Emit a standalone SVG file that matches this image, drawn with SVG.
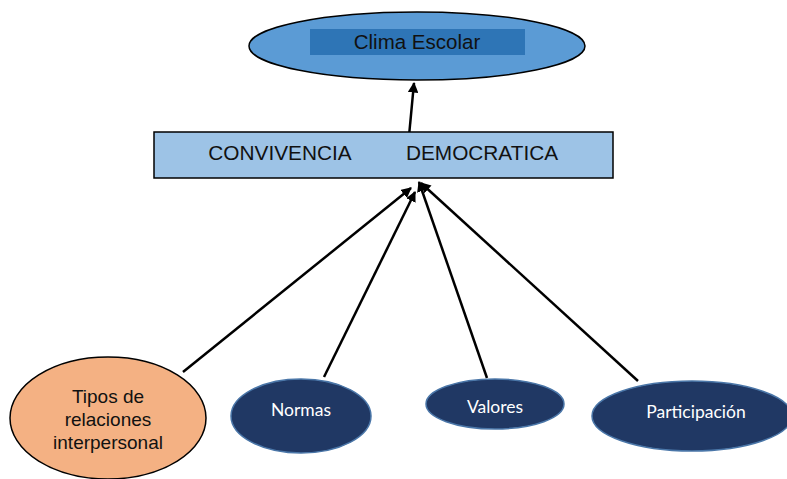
<svg xmlns="http://www.w3.org/2000/svg" width="787" height="479" viewBox="0 0 787 479">
<defs>
<style>
.lbl{font-family:"Liberation Sans",Arial,sans-serif;fill:#111;text-anchor:middle}
.wl{font-family:Lato,"Noto Sans",sans-serif;fill:#fff;text-anchor:middle;font-size:17.5px}
.dark{fill:#203864;stroke:#4a76a8;stroke-width:1.5}
.con{stroke:#000;stroke-width:2.5;fill:none;marker-end:url(#ah)}
</style>
<marker id="ah" viewBox="0 0 10 10" refX="9" refY="5" markerWidth="4.2" markerHeight="4.2" orient="auto" markerUnits="strokeWidth">
<path d="M0,0 L10,5 L0,10 z" fill="#000"/>
</marker>
</defs>
<rect width="787" height="479" fill="#fff"/>
<g id="connectors">
<line class="con" x1="409" y1="136" x2="414" y2="83"/>
<line class="con" x1="183" y1="372" x2="411" y2="188"/>
<line class="con" x1="324" y1="377" x2="415" y2="192"/>
<line class="con" x1="487" y1="378" x2="419" y2="182"/>
<line class="con" x1="638" y1="381" x2="421" y2="183"/>
</g>
<g id="clima">
<ellipse cx="417" cy="46" rx="168" ry="34" fill="#5B9BD5" stroke="#000" stroke-width="1.5"/>
<rect x="310" y="29" width="215" height="26" fill="#2E75B6"/>
<text class="lbl" x="417" y="49" font-size="20.5">Clima Escolar</text>
</g>
<g id="convivencia">
<rect x="154" y="132" width="459" height="46" fill="#9DC3E6" stroke="#000" stroke-width="1.5"/>
<text class="lbl" x="280" y="160" font-size="20.8">CONVIVENCIA</text>
<text class="lbl" x="482" y="160" font-size="20.8">DEMOCRATICA</text>
</g>
<g id="tipos">
<ellipse cx="108" cy="418" rx="98" ry="61" fill="#F4B183" stroke="#000" stroke-width="1.5"/>
<text class="lbl" x="108" y="403" font-size="19">Tipos de</text>
<text class="lbl" x="108" y="426" font-size="19">relaciones</text>
<text class="lbl" x="108" y="449" font-size="19">interpersonal</text>
</g>
<g id="normas">
<ellipse class="dark" cx="301" cy="416" rx="70" ry="37"/>
<text class="wl" x="301" y="416">Normas</text>
</g>
<g id="valores">
<ellipse class="dark" cx="495" cy="404" rx="69" ry="25"/>
<text class="wl" x="495" y="413">Valores</text>
</g>
<g id="participacion">
<ellipse class="dark" cx="692" cy="416" rx="100" ry="35"/>
<text class="wl" x="696" y="418">Participación</text>
</g>
</svg>
